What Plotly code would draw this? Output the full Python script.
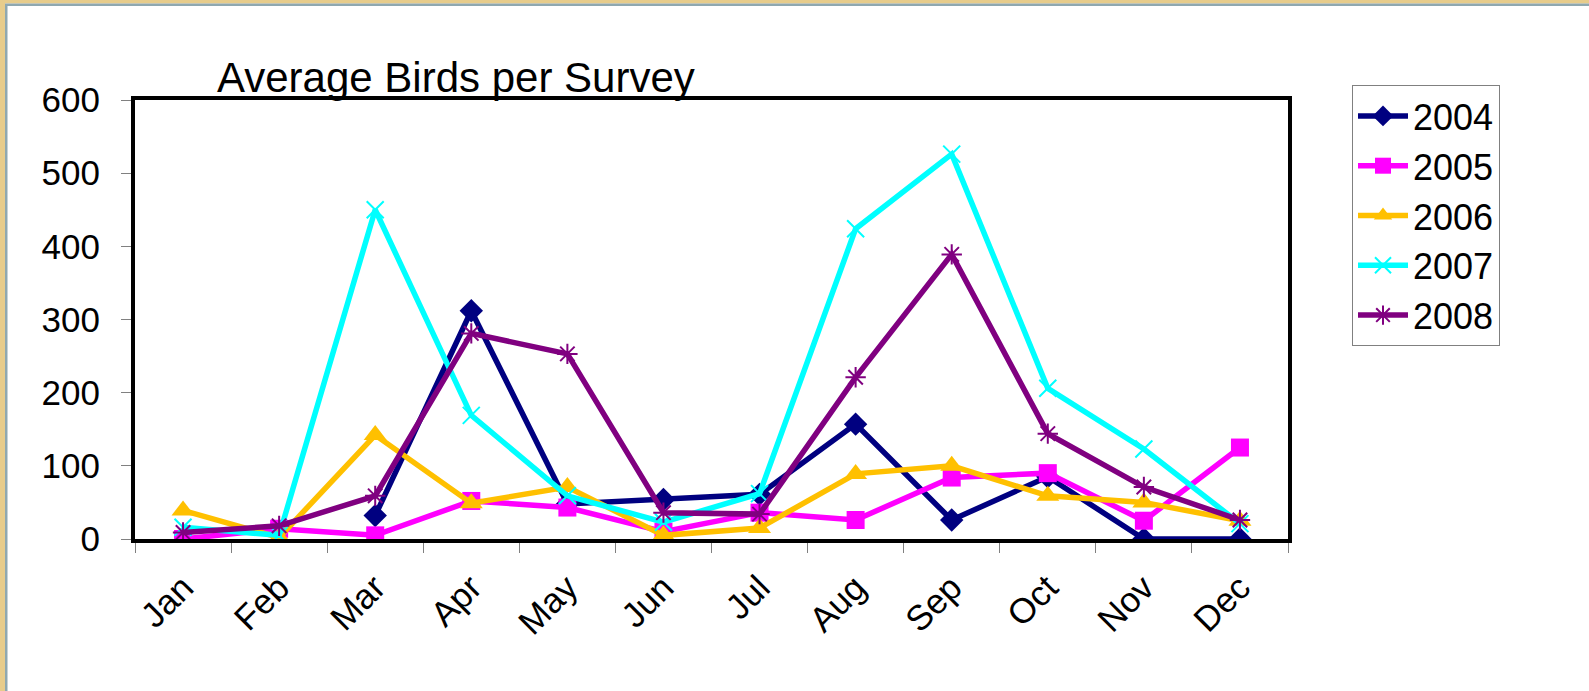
import plotly.graph_objects as go

# Data
months = ["Jan", "Feb", "Mar", "Apr", "May", "Jun", "Jul", "Aug", "Sep", "Oct", "Nov", "Dec"]
birds_2004 = [None, None, 32, 312, 48, 54, 61, 157, 26, 85, 0, 0]
birds_2005 = [0, 14, 5, 52, 43, 10, 36, 26, 84, 90, 25, 125]
birds_2006 = [39, 2, 142, 49, 71, 5, 15, 89, 100, 59, 50, 25]
birds_2007 = [16, 5, 450, 169, 59, 23, 62, 424, 526, 206, 123, 21]
birds_2008 = [9, 18, 59, 281, 253, 36, 34, 221, 389, 144, 71, 26]
y_ticks = [0, 100, 200, 300, 400, 500, 600]

W, H = 1589, 691
L, R, T, B = 135, 301, 100, 152
FONT = "Arial, Liberation Sans, sans-serif"


def px_x(x):
    return (x - L) / (W - L - R)


def px_y(y):
    return (H - B - y) / (H - T - B)


series = [
    ("2004", birds_2004, "#000080", dict(symbol="diamond", size=18)),
    ("2005", birds_2005, "#FF00FF", dict(symbol="square", size=18)),
    ("2006", birds_2006, "#FFC000", dict(symbol="triangle-up", size=20)),
    ("2007", birds_2007, "#00FFFF", dict(symbol="x-thin-open", size=17, line=dict(width=2, color="#00FFFF"))),
    ("2008", birds_2008, "#800080", dict(symbol="asterisk-open", size=17, line=dict(width=2, color="#800080"))),
]

fig = go.Figure()
for name, values, color, marker in series:
    fig.add_trace(go.Scatter(
        x=months,
        y=values,
        name=name,
        mode="lines+markers",
        line=dict(color=color, width=5.5),
        marker=dict(color=color, **marker),
        connectgaps=False,
    ))

# slide-like border (top and left strips)
border = "#E7CC8B"
edge = "#8FA8B0"
shapes = [
    dict(type="rect", xref="paper", yref="paper", x0=px_x(0), x1=px_x(W), y0=px_y(0), y1=px_y(3.5),
         fillcolor=border, line=dict(width=0), layer="above"),
    dict(type="rect", xref="paper", yref="paper", x0=px_x(0), x1=px_x(W), y0=px_y(3.5), y1=px_y(6),
         fillcolor=edge, line=dict(width=0), layer="above"),
    dict(type="rect", xref="paper", yref="paper", x0=px_x(0), x1=px_x(5), y0=px_y(0), y1=px_y(H),
         fillcolor=border, line=dict(width=0), layer="above"),
    dict(type="rect", xref="paper", yref="paper", x0=px_x(5), x1=px_x(7.5), y0=px_y(5), y1=px_y(H),
         fillcolor=edge, line=dict(width=0), layer="above"),
]

fig.update_layout(
    width=W,
    height=H,
    margin=dict(l=L, r=R, t=T, b=B),
    paper_bgcolor="white",
    plot_bgcolor="white",
    font=dict(family=FONT, color="black", size=35),
    title=dict(
        text="Average Birds per Survey",
        font=dict(family=FONT, size=42, color="black"),
        xref="paper", x=px_x(217), xanchor="left",
        yref="paper", y=1, yanchor="bottom",
        pad=dict(b=8),
    ),
    xaxis=dict(
        type="category",
        range=[-0.5, 11.5],
        showline=True, linecolor="black", linewidth=4, mirror=True,
        ticks="outside", ticklen=10, tickcolor="#808080", tickwidth=1,
        tickson="boundaries",
        tickangle=-45,
        tickfont=dict(size=35),
        ticklabelstandoff=10,
        showgrid=False, zeroline=False,
    ),
    yaxis=dict(
        range=[0, 600],
        tickvals=y_ticks,
        showline=True, linecolor="black", linewidth=4, mirror=True,
        ticks="outside", ticklen=10, tickcolor="#808080", tickwidth=1,
        tickfont=dict(size=35),
        ticklabelstandoff=14,
        showgrid=False, zeroline=False,
    ),
    legend=dict(
        x=px_x(1352), y=px_y(85), xanchor="left", yanchor="top",
        bordercolor="#808080", borderwidth=1,
        bgcolor="white",
        font=dict(size=36, family=FONT),
        itemwidth=50,
        tracegroupgap=0,
    ),
    shapes=shapes,
)

fig.write_html(
    "out.html",
    config={"displayModeBar": False},
    post_script="document.body.style.margin='0';",
)
